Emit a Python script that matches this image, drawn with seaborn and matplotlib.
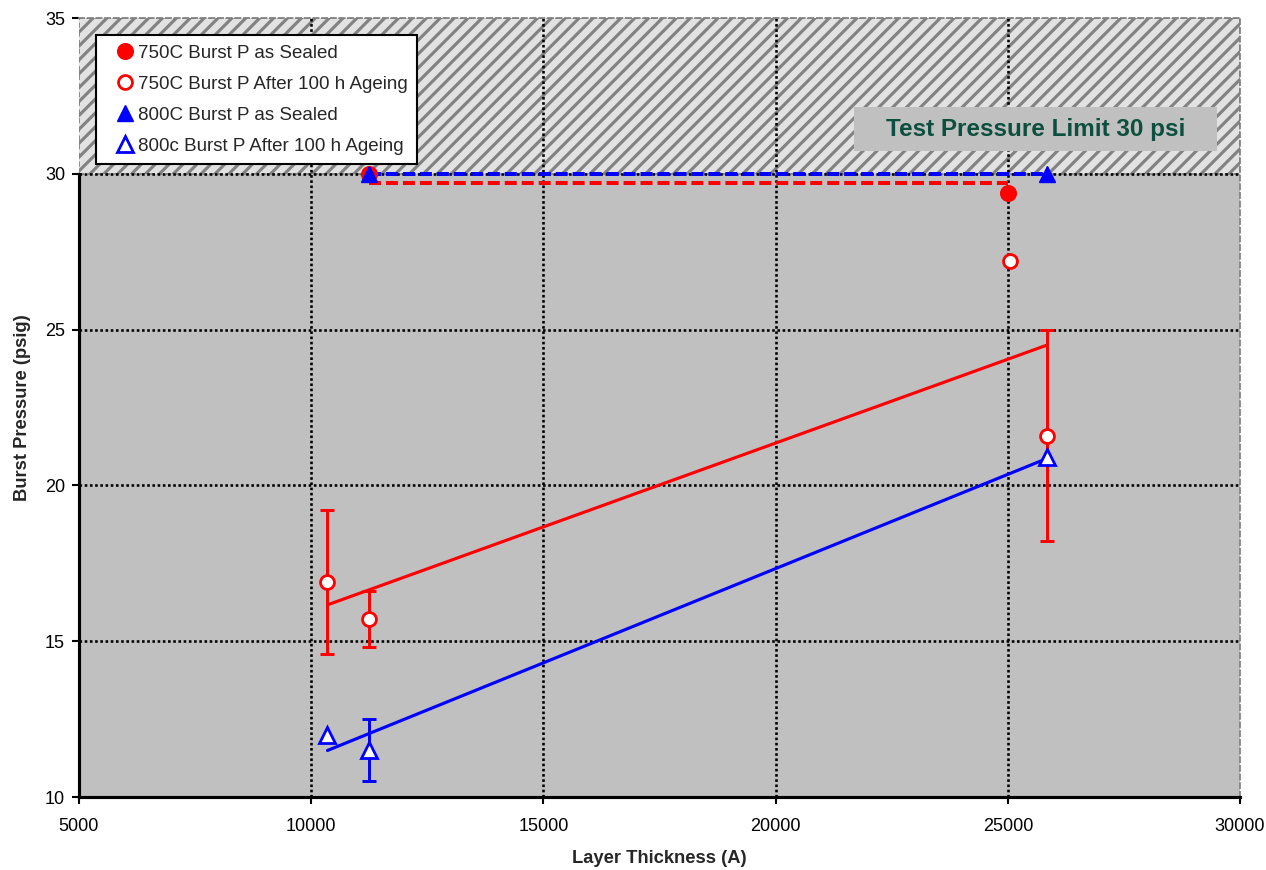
import numpy as np
import matplotlib
matplotlib.use("Agg")
import matplotlib.pyplot as plt
from matplotlib.patches import Rectangle
import seaborn as sns

# Layer thickness (A) and burst pressure (psig) for each series
thick_750_sealed = [11250, 25000]
burst_750_sealed = [30.0, 29.4]

thick_750_aged = [10350, 11250, 25050, 25850]
burst_750_aged = [16.9, 15.7, 27.2, 21.6]
err_750_aged = [2.3, 0.9, np.nan, 3.4]

thick_800_sealed = [11250, 25850]
burst_800_sealed = [30.0, 30.0]

thick_800_aged = [10350, 11250, 25850]
burst_800_aged = [12.0, 11.5, 20.9]
err_800_aged = [np.nan, 1.0, np.nan]

series_labels = [
    "750C Burst P as Sealed",
    "750C Burst P After 100 h Ageing",
    "800C Burst P as Sealed",
    "800c Burst P After 100 h Ageing",
]
x_ticks = [5000, 10000, 15000, 20000, 25000, 30000]
y_ticks = [10, 15, 20, 25, 30, 35]
test_limit = 30
limit_label = "Test Pressure Limit 30 psi"

sns.set_style("white")
plt.rcParams["font.family"] = ["Liberation Sans", "DejaVu Sans"]
plt.rcParams["hatch.linewidth"] = 1.8
plt.rcParams["hatch.color"] = "#828282"

DPI = 125
fig = plt.figure(figsize=(1266 / DPI, 870 / DPI), dpi=DPI)
ax = fig.add_axes([0.0624, 0.0839, 0.9171, 0.8954])
ax.set_facecolor("#c0c0c0")
ax.set_xlim(x_ticks[0], x_ticks[-1])
ax.set_ylim(y_ticks[0], y_ticks[-1])

RED = "#ff0000"
BLUE = "#0000ff"

# hatched band above the test pressure limit
ax.axhspan(test_limit, y_ticks[-1], facecolor="#e2e2e2", edgecolor="#828282",
           hatch="///", linewidth=0, zorder=0.4)
ax.axhspan(test_limit, y_ticks[-1], fill=False, edgecolor="#808080",
           linewidth=1.0, linestyle=(0, (3, 2)), zorder=0.45)

# dotted reference grid on the inner ticks
grid_kw = dict(color="black", linewidth=1.5, linestyle=(0, (1, 1)), zorder=1)
for yv in y_ticks[1:-1]:
    ax.axhline(yv, **grid_kw)
for xv in x_ticks[1:-1]:
    ax.axvline(xv, **grid_kw)

# linear trends of the aged series
sns.regplot(x=np.array(thick_750_aged), y=np.array(burst_750_aged), ax=ax,
            scatter=False, ci=None, truncate=True, color=RED,
            line_kws=dict(linewidth=1.8, zorder=2))
sns.regplot(x=np.array(thick_800_aged), y=np.array(burst_800_aged), ax=ax,
            scatter=False, ci=None, truncate=True, color=BLUE,
            line_kws=dict(linewidth=1.8, zorder=2))

# average level of the as-sealed series
dash = (0, (3, 1.25))
ax.hlines(np.mean(burst_750_sealed), min(thick_750_sealed), max(thick_750_sealed),
          colors=RED, linewidth=2.3, linestyles=[dash], zorder=2.1)
ax.hlines(np.mean(burst_800_sealed), min(thick_800_sealed), max(thick_800_sealed),
          colors=BLUE, linewidth=2.3, linestyles=[dash], zorder=2.2)

# error bars
def draw_err(xs, ys, es, color):
    xs, ys, es = map(np.asarray, (xs, ys, es))
    m = ~np.isnan(es)
    ax.errorbar(xs[m], ys[m], yerr=es[m], fmt="none", ecolor=color,
                elinewidth=1.7, capsize=4.2, capthick=1.7, zorder=3)

draw_err(thick_750_aged, burst_750_aged, err_750_aged, RED)
draw_err(thick_800_aged, burst_800_aged, err_800_aged, BLUE)

# markers
ax.plot(thick_750_sealed, burst_750_sealed, linestyle="none", marker="o",
        markersize=9.0, markerfacecolor=RED, markeredgecolor=RED,
        markeredgewidth=0.8, label=series_labels[0], zorder=4)
ax.plot(thick_750_aged, burst_750_aged, linestyle="none", marker="o",
        markersize=8.0, markerfacecolor="white", markeredgecolor=RED,
        markeredgewidth=1.6, label=series_labels[1], zorder=4)
ax.plot(thick_800_sealed, burst_800_sealed, linestyle="none", marker="^",
        markersize=9.6, markerfacecolor=BLUE, markeredgecolor=BLUE,
        markeredgewidth=0.8, label=series_labels[2], zorder=4.1)
ax.plot(thick_800_aged, burst_800_aged, linestyle="none", marker="^",
        markersize=8.8, markerfacecolor="white", markeredgecolor=BLUE,
        markeredgewidth=1.6, label=series_labels[3], zorder=4.1)

# test pressure limit label
ax.add_patch(Rectangle((0.6675, 0.8293), 0.3127, 0.0565, transform=ax.transAxes,
                       facecolor="#c0c0c0", edgecolor="none", zorder=5))
ax.text(0.8238, 0.8575, limit_label, transform=ax.transAxes, ha="center",
        va="center", fontsize=14, fontweight="bold", color="#0d4f3e", zorder=6)

# axes styling
ax.set_xticks(x_ticks)
ax.set_yticks(y_ticks)
ax.set_xticklabels([str(v) for v in x_ticks])
ax.set_yticklabels([str(v) for v in y_ticks])
ax.tick_params(axis="both", which="major", direction="out", length=4,
               width=1.2, color="black", labelsize=10.4, labelcolor="black",
               bottom=True, left=True, top=False, right=False)
ax.tick_params(axis="x", pad=8)
ax.tick_params(axis="y", pad=4)

for side in ("left", "bottom"):
    ax.spines[side].set_color("black")
    ax.spines[side].set_linewidth(1.8)
    ax.spines[side].set_zorder(7)
ax.spines["left"].set_bounds(y_ticks[0], test_limit)
for side in ("top", "right"):
    ax.spines[side].set_color("#808080")
    ax.spines[side].set_linewidth(1.0)
    ax.spines[side].set_linestyle((0, (3, 2)))

ax.set_xlabel("Layer Thickness (A)", fontsize=10.6, fontweight="bold", labelpad=9)
ax.set_ylabel("Burst Pressure (psig)", fontsize=10.6, fontweight="bold", labelpad=8)

leg = ax.legend(loc="upper left", bbox_to_anchor=(0.0146, 0.978),
                borderaxespad=0, frameon=True, fancybox=False, framealpha=1,
                facecolor="white", edgecolor="black", fontsize=10.8,
                handlelength=2.1, handletextpad=-0.35, labelspacing=0.74,
                borderpad=0.5, numpoints=1)
leg.get_frame().set_linewidth(1.2)
leg.set_zorder(10)

fig.savefig("out.png", dpi=DPI)
